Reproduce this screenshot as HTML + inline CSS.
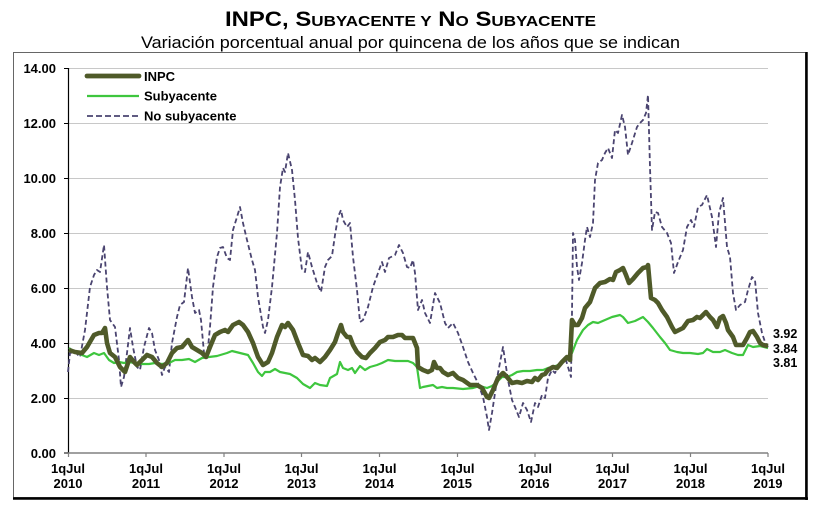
<!DOCTYPE html>
<html><head><meta charset="utf-8"><style>
html,body{margin:0;padding:0;background:#fff;}
svg{display:block;font-family:"Liberation Sans",Arial,sans-serif;}
</style></head><body>
<svg width="815" height="510" viewBox="0 0 815 510" xmlns="http://www.w3.org/2000/svg">
<rect x="0" y="0" width="815" height="510" fill="#fff"/>
<!-- Title -->
<text x="410.5" y="26" text-anchor="middle" font-weight="bold" font-size="21" fill="#000" textLength="371" lengthAdjust="spacingAndGlyphs">INPC, S<tspan font-size="15">UBYACENTE Y</tspan> N<tspan font-size="15">O</tspan> S<tspan font-size="15">UBYACENTE</tspan></text>
<text x="410.5" y="48" text-anchor="middle" font-size="17" fill="#000" textLength="539" lengthAdjust="spacingAndGlyphs">Variación porcentual anual por quincena de los años que se indican</text>
<!-- Frame -->
<rect x="13.5" y="52.5" width="792" height="445" fill="none" stroke="#666" stroke-width="1"/>
<line x1="806.5" y1="52" x2="806.5" y2="500" stroke="#000" stroke-width="2.5"/>
<line x1="13" y1="498.5" x2="808" y2="498.5" stroke="#000" stroke-width="2.5"/>
<!-- Gridlines -->
<g stroke="#c8c8c8" stroke-width="1">
<line x1="68" y1="68.5" x2="768" y2="68.5"/>
<line x1="68" y1="123.5" x2="768" y2="123.5"/>
<line x1="68" y1="178.5" x2="768" y2="178.5"/>
<line x1="68" y1="233.5" x2="768" y2="233.5"/>
<line x1="68" y1="288.5" x2="768" y2="288.5"/>
<line x1="68" y1="343.5" x2="768" y2="343.5"/>
<line x1="68" y1="398.5" x2="768" y2="398.5"/>
</g>
<!-- Axes -->
<line x1="68.5" y1="68" x2="68.5" y2="453" stroke="#000" stroke-width="1.2"/>
<line x1="68" y1="453" x2="768" y2="453" stroke="#808080" stroke-width="1.5"/>
<g stroke="#000" stroke-width="1">
<line x1="64" y1="68.5" x2="68" y2="68.5"/>
<line x1="64" y1="123.5" x2="68" y2="123.5"/>
<line x1="64" y1="178.5" x2="68" y2="178.5"/>
<line x1="64" y1="233.5" x2="68" y2="233.5"/>
<line x1="64" y1="288.5" x2="68" y2="288.5"/>
<line x1="64" y1="343.5" x2="68" y2="343.5"/>
<line x1="64" y1="398.5" x2="68" y2="398.5"/>
<line x1="64" y1="453" x2="68" y2="453"/>
</g>
<g stroke="#808080" stroke-width="1.2">
<line x1="68.5" y1="453" x2="68.5" y2="457"/>
<line x1="146" y1="453" x2="146" y2="457"/>
<line x1="224" y1="453" x2="224" y2="457"/>
<line x1="301.5" y1="453" x2="301.5" y2="457"/>
<line x1="379.5" y1="453" x2="379.5" y2="457"/>
<line x1="457.5" y1="453" x2="457.5" y2="457"/>
<line x1="535" y1="453" x2="535" y2="457"/>
<line x1="612.5" y1="453" x2="612.5" y2="457"/>
<line x1="690.5" y1="453" x2="690.5" y2="457"/>
<line x1="768" y1="453" x2="768" y2="457"/>
</g>
<!-- Y labels -->
<g font-weight="bold" font-size="13" text-anchor="end" fill="#000">
<text x="56" y="73">14.00</text>
<text x="56" y="128">12.00</text>
<text x="56" y="183">10.00</text>
<text x="56" y="238">8.00</text>
<text x="56" y="293">6.00</text>
<text x="56" y="348">4.00</text>
<text x="56" y="403">2.00</text>
<text x="56" y="458">0.00</text>
</g>
<!-- X labels -->
<g font-weight="bold" font-size="13" text-anchor="middle" fill="#000">
<text x="68" y="473">1qJul</text><text x="68" y="488">2010</text>
<text x="146" y="473">1qJul</text><text x="146" y="488">2011</text>
<text x="224" y="473">1qJul</text><text x="224" y="488">2012</text>
<text x="301.5" y="473">1qJul</text><text x="301.5" y="488">2013</text>
<text x="379.5" y="473">1qJul</text><text x="379.5" y="488">2014</text>
<text x="457.5" y="473">1qJul</text><text x="457.5" y="488">2015</text>
<text x="535" y="473">1qJul</text><text x="535" y="488">2016</text>
<text x="612.5" y="473">1qJul</text><text x="612.5" y="488">2017</text>
<text x="690.5" y="473">1qJul</text><text x="690.5" y="488">2018</text>
<text x="768" y="473">1qJul</text><text x="768" y="488">2019</text>
</g>
<!-- No subyacente -->
<polyline fill="none" stroke="#4a4470" stroke-width="1.8" stroke-dasharray="5,3" stroke-linejoin="round" points="68,372 70,353 75,352 80,357 85,330 90,287 94,275 97,270 100,272 104,245 107,287 110,320 115,327 119,360 121,387 124,377 127,353 130,328 133,347 137,367 140,370 144,347 149,328 152,333 155,350 159,360 162,375 165,367 169,372 172,343 177,317 180,305 184,302 188,268 192,297 195,313 199,310 201,320 204,353 207,358 210,327 213,287 217,257 220,248 223,247 227,258 230,260 233,230 237,217 240,207 243,223 247,240 252,260 255,270 258,297 263,327 265,333 268,320 272,287 277,233 280,187 283,168 285,172 288,153 292,170 295,200 298,238 302,270 305,272 308,252 312,267 317,283 321,292 325,267 328,260 332,256 335,235 338,217 341,210 343,220 347,227 350,223 353,257 357,290 360,322 363,320 368,307 373,287 378,273 382,262 385,272 389,258 395,255 399,245 403,253 407,267 410,268 413,260 415,273 418,310 422,300 425,313 430,323 435,293 440,303 445,323 448,328 453,323 458,333 463,347 468,362 473,373 478,383 483,397 487,417 489,430 492,413 495,393 498,373 503,347 505,360 508,380 512,400 515,407 519,417 523,403 527,410 531,422 535,403 538,407 542,395 545,398 548,378 552,370 555,373 558,367 562,362 565,357 568,367 571,377 572,313 573,233 575,240 577,267 579,280 582,263 585,240 587,227 590,237 593,223 595,180 598,163 602,160 605,153 608,148 612,158 615,130 618,133 622,115 625,127 628,155 632,143 637,127 640,123 643,120 646,113 648,95 650,167 652,230 655,212 658,213 662,227 667,233 671,243 674,273 678,262 683,250 687,227 691,220 694,227 698,207 702,205 707,195 712,217 716,247 719,213 723,198 727,247 730,257 733,293 736,310 740,305 745,302 748,290 752,277 755,280 758,313 762,333 765,342 768,347"/>
<!-- Subyacente -->
<polyline fill="none" stroke="#3ec63e" stroke-width="2.2" stroke-linejoin="round" points="69,348 75,352 82,355 87,357 94,353 99,355 104,353 109,360 114,363 119,362 124,363 129,362 135,363 142,364 149,364 155,363 162,364 169,363 175,360 182,360 189,359 195,362 202,358 209,357 217,356 227,353 232,351 240,353 248,355 253,363 258,372 262,376 265,372 270,372 275,369 280,372 285,373 290,374 297,378 303,384 310,388 315,383 320,385 327,386 330,378 337,374 340,362 343,368 348,370 352,368 355,373 360,366 365,370 370,367 377,365 382,363 388,360 395,361 402,361 408,361 413,363 417,367 420,388 423,387 428,386 433,385 437,388 442,387 447,388 453,388 463,389 473,388 480,386 487,388 492,386 497,382 502,377 507,377 512,375 517,372 523,371 530,371 537,370 543,370 548,368 553,367 558,365 563,362 568,357 572,353 577,340 583,330 588,325 593,322 598,323 605,320 612,317 620,315 623,317 628,323 635,321 643,317 648,322 653,328 660,337 665,343 670,350 677,352 683,353 690,353 698,354 703,353 707,349 713,352 720,352 725,350 732,353 738,355 743,355 748,345 753,347 760,346 768,348"/>
<!-- INPC -->
<polyline fill="none" stroke="#4f5a29" stroke-width="4.6" stroke-linejoin="round" points="69,350 75,352 82,353 87,347 94,335 99,333 102,333 105,328 107,343 110,353 115,357 120,367 125,372 128,363 130,357 134,362 137,365 142,360 147,355 152,357 157,363 162,367 167,363 172,353 177,348 182,347 188,340 192,347 197,350 202,353 206,357 210,347 215,335 220,332 225,330 228,332 233,325 239,322 243,325 248,332 253,343 258,357 263,365 268,362 272,353 277,337 282,325 285,327 288,323 293,330 298,343 303,355 308,356 312,360 315,358 320,362 325,357 330,350 335,342 338,333 341,325 343,332 347,337 350,337 353,345 357,352 362,357 366,358 370,353 375,348 380,342 385,340 388,337 393,337 398,335 402,335 405,338 410,338 413,338 417,348 418,367 423,370 428,372 432,370 434,362 437,368 440,368 443,372 448,375 453,373 458,378 463,380 470,385 477,385 482,388 487,397 489,398 493,390 498,378 503,373 507,377 512,383 517,382 522,383 527,381 532,382 535,378 538,380 542,375 545,374 548,370 553,367 557,368 562,362 567,357 570,360 572,320 575,325 578,325 582,318 585,308 590,302 595,288 600,283 605,282 610,279 613,280 616,272 620,270 623,268 626,275 629,283 633,279 638,273 643,268 647,267 648,265 651,298 655,300 658,303 662,310 667,317 672,327 675,332 679,330 683,328 688,321 693,320 697,317 700,318 703,315 706,312 710,317 713,320 717,327 720,318 723,316 726,323 728,330 733,337 736,345 740,345 743,345 747,338 750,332 753,331 757,337 760,343 763,345 768,346"/>
<!-- Legend -->
<line x1="87" y1="76" x2="139" y2="76" stroke="#4f5a29" stroke-width="4.8" stroke-linecap="round"/>
<line x1="87" y1="96" x2="139" y2="96" stroke="#3ec63e" stroke-width="2.2"/>
<line x1="87" y1="116" x2="139" y2="116" stroke="#4a4470" stroke-width="1.8" stroke-dasharray="6,3"/>
<g font-weight="bold" font-size="13" fill="#000">
<text x="144" y="81">INPC</text>
<text x="144" y="100.5">Subyacente</text>
<text x="144" y="120.5">No subyacente</text>
</g>
<!-- End labels -->
<g font-weight="bold" font-size="12.5" fill="#000">
<text x="773" y="338">3.92</text>
<text x="773" y="353">3.84</text>
<text x="773" y="367">3.81</text>
</g>
</svg>
</body></html>
